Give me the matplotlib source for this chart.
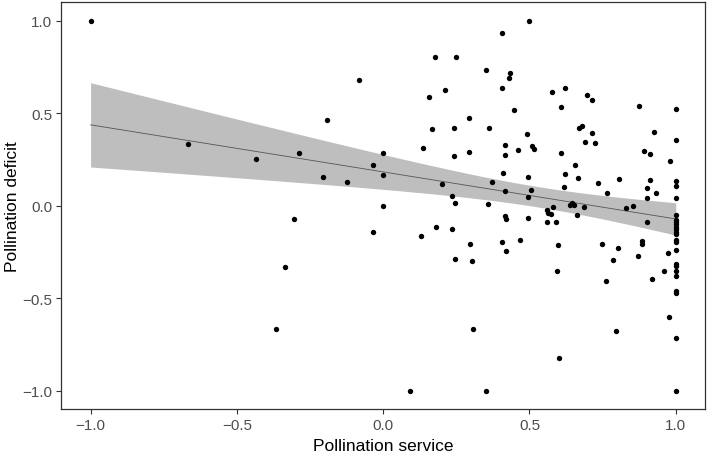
import numpy as np
import matplotlib
matplotlib.use('Agg')
import matplotlib.pyplot as plt

plt.rcParams['font.family'] = ['Liberation Sans', 'DejaVu Sans']

# pollination service (x) and pollination deficit (y)
service = [
    -1.0, -0.668, -0.436, -0.286, -0.207, -0.125, -0.192, -0.083, -0.306, -0.334, -0.365,
    0.499, 0.406, 0.176, 0.249, 0.353, 0.433, 0.431, 0.212, 0.407, 0.157,
    0.578, 0.623, 0.695, 0.714, 0.607, 0.873, 1.0, 0.448, 0.295, 0.168,
    0.242, 0.362, 0.493, 0.670, 0.680, 0.713, 0.926, 1.0, 0.416, 0.507,
    0.515, 0.689, 0.724, 0.135, 0.0, 0.242, 0.295, 0.416, 0.461, 0.609,
    0.891, 0.911, 0.979, -0.036, 0.654, 0.0, 0.408, 0.495, 0.623, 0.667,
    0.373, 0.733, 0.805, 0.911, 1.0, 1.0, 0.200, 0.618, 0.902, 0.415,
    0.504, 0.933, 0.765, 0.235, 0.495, 0.902, 1.0, 0.246, 0.358, 0.0,
    0.579, 0.639, 0.646, 0.652, 0.685, 0.829, 0.854, 0.560, 0.564, 0.572,
    0.662, 0.415, 0.421, 0.495, 0.560, 0.592, 0.900, 0.182, 0.235,
    -0.036, 0.130, 0.297, 0.405, 0.421, 0.469, 0.598, 0.246, 0.305, 0.594,
    0.747, 0.803, 0.784, 0.760, 0.886, 0.886, 0.871, 0.973, 0.960, 0.919,
    0.977, 0.308, 0.797, 0.602, 0.091, 0.352,
    1.0, 1.0, 1.0, 1.0, 1.0, 1.0, 1.0, 1.0, 1.0, 1.0,
    1.0, 1.0, 1.0, 1.0, 1.0, 1.0, 1.0, 1.0, 1.0,
]
deficit = [
    1.0, 0.333, 0.25, 0.286, 0.153, 0.126, 0.461, 0.677, -0.074, -0.333, -0.666,
    1.0, 0.934, 0.805, 0.805, 0.731, 0.720, 0.691, 0.628, 0.634, 0.585,
    0.617, 0.634, 0.598, 0.569, 0.531, 0.540, 0.522, 0.520, 0.472, 0.412,
    0.418, 0.418, 0.389, 0.421, 0.430, 0.392, 0.398, 0.356, 0.326, 0.322,
    0.308, 0.344, 0.338, 0.313, 0.286, 0.268, 0.290, 0.275, 0.301, 0.286,
    0.295, 0.277, 0.241, 0.220, 0.218, 0.167, 0.176, 0.157, 0.169, 0.148,
    0.130, 0.122, 0.146, 0.139, 0.133, 0.104, 0.119, 0.101, 0.094, 0.077,
    0.086, 0.068, 0.070, 0.052, 0.045, 0.041, 0.043, 0.013, 0.007, 0.0,
    -0.005, 0.005, 0.014, 0.002, -0.007, -0.013, 0.0, -0.025, -0.040, -0.047,
    -0.050, -0.056, -0.072, -0.067, -0.086, -0.086, -0.090, -0.113, -0.126,
    -0.144, -0.162, -0.209, -0.196, -0.247, -0.187, -0.214, -0.286, -0.299, -0.356,
    -0.205, -0.229, -0.295, -0.410, -0.191, -0.209, -0.272, -0.257, -0.356, -0.398,
    -0.603, -0.666, -0.679, -0.823, -1.0, -1.0,
    -0.049, -0.079, -0.090, -0.102, -0.115, -0.128, -0.140, -0.153, -0.184, -0.194,
    -0.238, -0.315, -0.324, -0.354, -0.383, -0.460, -0.471, -0.718, -1.0,
]

# fitted line and confidence band
fit_x = [-1.0, 1.0]
fit_y = [0.437, -0.072]
band_x = [-1.0, -0.08, 1.0]
band_half = [0.228, 0.104, 0.0875]

ticks = [-1.0, -0.5, 0.0, 0.5, 1.0]

x = np.array(service)
y = np.array(deficit)

# smooth band: half-width^2 is a quadratic in x through the three readings
bx = np.array(band_x)
A = np.column_stack([np.ones(3), bx, bx ** 2])
c0, c1, c2 = np.linalg.solve(A, np.array(band_half) ** 2)
xs = np.linspace(fit_x[0], fit_x[1], 200)
fit = np.interp(xs, fit_x, fit_y)
half = np.sqrt(c0 + c1 * xs + c2 * xs ** 2)

fig = plt.figure(figsize=(7.09, 4.56), dpi=100)
ax = fig.add_axes([0.0865, 0.1009, 0.9079, 0.8919])

ax.fill_between(xs, fit - half, fit + half, color='#bebebe', lw=0, zorder=1)
ax.plot(xs, fit, color='#555555', lw=0.6, zorder=2)
ax.scatter(x, y, s=15, color='black', lw=0, zorder=3)

ax.set_xlim(-1.1, 1.1)
ax.set_ylim(-1.1, 1.1)
ax.set_xticks(ticks)
ax.set_yticks(ticks)
ax.set_xticklabels([f'{v:.1f}'.replace('-', '\u2212') for v in ticks])
ax.set_yticklabels([f'{v:.1f}'.replace('-', '\u2212') for v in ticks])
ax.tick_params(direction='out', length=3.5, width=0.8, color='#333333',
               labelsize=11, labelcolor='#4d4d4d', pad=3)
for sp in ax.spines.values():
    sp.set_color('#333333')
    sp.set_linewidth(0.9)

ax.set_xlabel('Pollination service', fontsize=12.5, color='black', labelpad=4)
ax.set_ylabel('Pollination deficit', fontsize=12.5, color='black', labelpad=2)

fig.savefig('out.png', dpi=100)
